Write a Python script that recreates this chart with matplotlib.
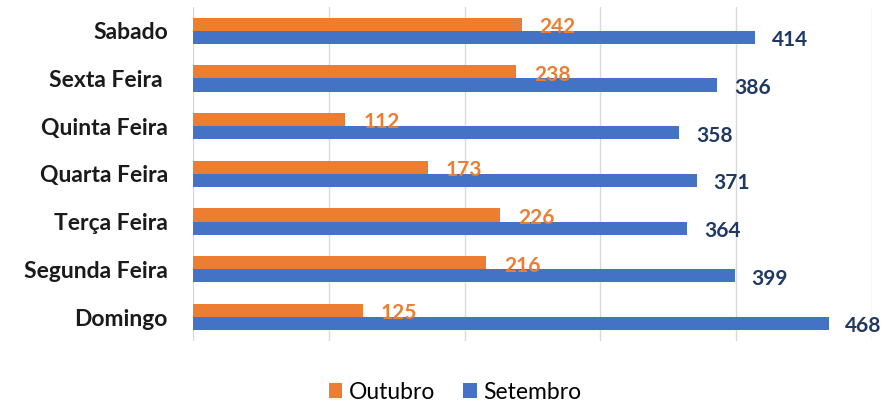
import matplotlib
matplotlib.use("Agg")
import matplotlib.pyplot as plt
import numpy as np

categories = ["Domingo", "Segunda Feira", "Terça Feira", "Quarta Feira", "Quinta Feira", "Sexta Feira ", "Sabado"]
outubro = [125, 216, 226, 173, 112, 238, 242]
setembro = [468, 399, 364, 371, 358, 386, 414]

plt.rcParams['font.family'] = ['Lato', 'DejaVu Sans']

fig = plt.figure(figsize=(8.89, 4.03), dpi=100)
ax = fig.add_axes([0.217, 0.154, 0.764, 0.829])

y = np.arange(len(categories))
h = 0.275
orange = "#ED7D31"
blue = "#4472C4"
ax.barh(y + h/2, outubro, height=h, color=orange, label="Outubro", zorder=3)
ax.barh(y - h/2, setembro, height=h, color=blue, label="Setembro", zorder=3)

for yi, v in zip(y, outubro):
    ax.annotate(str(v), (v, yi + h/2), xytext=(13, -2), textcoords="offset points",
                ha="left", va="center", color=orange, fontsize=15, fontweight="bold")
for yi, v in zip(y, setembro):
    ax.annotate(str(v), (v, yi - h/2), xytext=(12, -2), textcoords="offset points",
                ha="left", va="center", color="#203864", fontsize=15, fontweight="bold")

ax.set_xlim(0, 500)
ax.set_ylim(-0.5, len(categories) - 0.5)
ax.set_xticks([0, 100, 200, 300, 400, 500])
ax.xaxis.grid(True, color="#D9D9D9", linewidth=1, zorder=0)
ax.tick_params(axis="x", length=0, labelbottom=False)
ax.tick_params(axis="y", length=0, pad=18)
ax.set_yticks(y)
ax.set_yticklabels(categories, fontsize=16.5, fontweight="bold", color="#1a1a1a")
for s in ax.spines.values():
    s.set_visible(False)

handles, labels = ax.get_legend_handles_labels()
fig.legend(handles, labels, loc="center", bbox_to_anchor=(0.512, 0.027), ncol=2,
           frameon=False, fontsize=16.5, handlelength=0.6, handleheight=0.6,
           handletextpad=0.3, columnspacing=1.2)

fig.savefig("out.png", dpi=100)
